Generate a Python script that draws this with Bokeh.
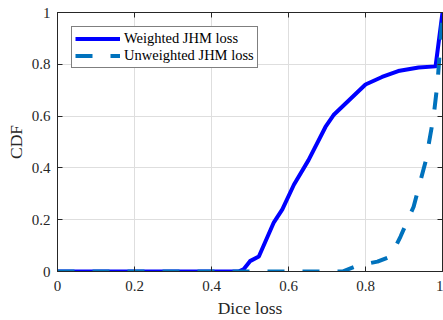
from bokeh.plotting import figure
from bokeh.models import FixedTicker, CustomJSTickFormatter, LinearAxis, Range1d, Legend, LegendItem
from bokeh.embed import file_html
from bokeh.resources import INLINE

# Data
weighted_x = [0, 0.47, 0.483, 0.50, 0.523, 0.562, 0.584, 0.614, 0.652, 0.696, 0.717, 0.80, 0.843, 0.885, 0.938, 0.982, 1.0]
weighted_y = [0, 0, 0.008, 0.04, 0.058, 0.19, 0.24, 0.335, 0.43, 0.558, 0.604, 0.722, 0.751, 0.774, 0.788, 0.792, 1.0]
unweighted_x = [0, 0.74, 0.779, 0.831, 0.865, 0.891, 0.925, 0.957, 0.977, 0.987, 0.993, 1.0]
unweighted_y = [0, 0, 0.023, 0.038, 0.058, 0.135, 0.25, 0.43, 0.60, 0.727, 0.85, 1.0]
ticks = [0, 0.2, 0.4, 0.6, 0.8, 1]
series_labels = ["Weighted JHM loss", "Unweighted JHM loss"]
x_label = "Dice loss"
y_label = "CDF"

FONT = "Liberation Serif"
AX = "#262626"

p = figure(width=443, height=320, output_backend="svg", toolbar_location=None,
           x_range=Range1d(0, 1), y_range=Range1d(0, 1),
           min_border_left=57, min_border_right=1, min_border_top=12, min_border_bottom=48)
p.background_fill_color = "white"
p.border_fill_color = "white"
p.outline_line_color = AX
p.outline_line_width = 1

fmt = CustomJSTickFormatter(code="return Number(tick.toFixed(1)).toString();")
for ax in (p.xaxis[0], p.yaxis[0]):
    ax.ticker = FixedTicker(ticks=ticks)
    ax.formatter = fmt
    ax.major_tick_in = 5
    ax.major_tick_out = 0
    ax.minor_tick_line_color = None
    ax.axis_line_color = AX
    ax.major_tick_line_color = AX
    ax.major_label_text_font = FONT
    ax.major_label_text_font_size = "15px"
    ax.major_label_text_color = AX
    ax.axis_label_text_font = FONT
    ax.axis_label_text_font_size = "17.5px"
    ax.axis_label_text_font_style = "normal"
    ax.axis_label_text_color = AX
p.xaxis.axis_label = x_label
p.yaxis.axis_label = y_label
p.xaxis.major_label_standoff = 9
p.yaxis.major_label_standoff = 7
p.xaxis.axis_label_standoff = 4
p.yaxis.axis_label_standoff = 3

empty_fmt = CustomJSTickFormatter(code="return '';")
for loc in ("above", "right"):
    ax = LinearAxis(ticker=FixedTicker(ticks=ticks), formatter=empty_fmt,
                    major_tick_in=5, major_tick_out=0,
                    minor_tick_line_color=None, axis_line_color=AX, major_tick_line_color=AX,
                    major_label_standoff=0)
    p.add_layout(ax, loc)

for g in (p.xgrid[0], p.ygrid[0]):
    g.ticker = FixedTicker(ticks=ticks)
    g.grid_line_color = "#dedede"
    g.grid_line_width = 1

r1 = p.line(weighted_x, weighted_y, line_color="#0000ff", line_width=4, line_join="round")
r2 = p.line(unweighted_x, unweighted_y, line_color="#0072bd", line_width=4, line_dash="17 18", line_cap="butt")

legend = Legend(items=[LegendItem(label=series_labels[0], renderers=[r1]),
                       LegendItem(label=series_labels[1], renderers=[r2])],
                location="top_left", margin=14, padding=3, spacing=0,
                label_height=17, glyph_height=17, glyph_width=45, label_standoff=4,
                label_text_font=FONT, label_text_font_size="14.5px", label_text_color="black",
                border_line_color="black", border_line_width=1, background_fill_color="white",
                background_fill_alpha=1)
p.add_layout(legend, "center")

open("out.html", "w").write(file_html(p, INLINE))
